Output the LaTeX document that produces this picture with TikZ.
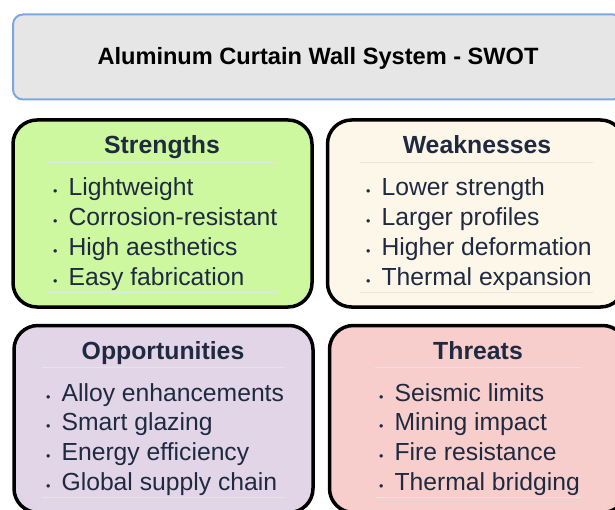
\documentclass[tikz,border=0pt]{standalone}
\usepackage{fontspec}
\setmainfont{Liberation Sans}
\usepackage{tikz}
\usetikzlibrary{shapes,arrows.meta}

\definecolor{titlefill}{HTML}{E6E6E6}
\definecolor{titleedge}{HTML}{7EA6E0}
\definecolor{strfill}{HTML}{CDF8A0}
\definecolor{weakfill}{HTML}{FDF7EA}
\definecolor{oppfill}{HTML}{E1D5E7}
\definecolor{thrfill}{HTML}{F8CECC}
\definecolor{ink}{HTML}{1F2A40}

\newcommand{\bul}{{\fontsize{12.5}{12.5}\selectfont •}\hspace{11pt}}

\begin{document}
\begin{tikzpicture}[x=1pt,y=-1pt]
	\tikzstyle{every node}=[inner sep=0pt, text=ink]
	\tikzstyle{card}=[draw=black, line width=3.5pt, rounded corners=24pt, minimum height=187pt]
	\tikzstyle{head}=[anchor=base, font=\fontsize{24.8}{24.8}\selectfont\bfseries]
	\tikzstyle{entry}=[anchor=base west, font=\fontsize{24.7}{24.7}\selectfont]
	\tikzstyle{sepline}=[line width=0.8pt, black!10]

	%%page frame
	\useasboundingbox (0.0000,0.0000) rectangle (615.0000,510.0000);

	%%title
	\node [draw=titleedge, fill=titlefill, line width=2pt, rounded corners=10pt, minimum width=610pt, minimum height=85pt] (title) at (318.0000,57.0000) {};
	\node [anchor=base, font=\fontsize{23.6}{23.6}\selectfont\bfseries, text=black] (titletext) at (318.0000,65.0000) {Aluminum Curtain Wall System - SWOT};

	%%strengths
	\node [card, fill=strfill, minimum width=299pt] (str) at (162.5000,213.5000) {};
	\node [head] (strhead) at (162.0000,154.0000) {Strengths};
	\draw [sepline] (47.0000,162.0000) -- (277.0000,162.0000);
	\node [entry] (str1) at (53.0000,195.5000) {\bul Lightweight};
	\node [entry] (str2) at (53.0000,225.5000) {\bul Corrosion-resistant};
	\node [entry] (str3) at (53.0000,255.5000) {\bul High aesthetics};
	\node [entry] (str4) at (53.0000,285.5000) {\bul Easy fabrication};
	\draw [sepline] (47.0000,292.0000) -- (277.0000,292.0000);

	%%weaknesses
	\node [card, fill=weakfill, minimum width=297pt] (weak) at (476.0000,213.5000) {};
	\node [head] (weakhead) at (477.0000,154.0000) {Weaknesses};
	\draw [sepline] (360.0000,162.0000) -- (593.0000,162.0000);
	\node [entry] (weak1) at (366.0000,195.5000) {\bul Lower strength};
	\node [entry] (weak2) at (366.0000,225.5000) {\bul Larger profiles};
	\node [entry] (weak3) at (366.0000,255.5000) {\bul Higher deformation};
	\node [entry] (weak4) at (366.0000,285.5000) {\bul Thermal expansion};
	\draw [sepline] (360.0000,292.0000) -- (593.0000,292.0000);

	%%opportunities
	\node [card, fill=oppfill, minimum width=299pt] (opp) at (163.5000,419.0000) {};
	\node [head] (opphead) at (163.0000,359.0000) {Opportunities};
	\draw [sepline] (42.0000,367.0000) -- (285.0000,367.0000);
	\node [entry] (opp1) at (46.0000,401.5000) {\bul Alloy enhancements};
	\node [entry] (opp2) at (46.0000,430.5000) {\bul Smart glazing};
	\node [entry] (opp3) at (46.0000,460.5000) {\bul Energy efficiency};
	\node [entry] (opp4) at (46.0000,490.5000) {\bul Global supply chain};
	\draw [sepline] (42.0000,497.0000) -- (285.0000,497.0000);

	%%threats
	\node [card, fill=thrfill, minimum width=297pt] (thr) at (478.0000,419.0000) {};
	\node [head] (thrhead) at (478.0000,359.0000) {Threats};
	\draw [sepline] (375.0000,367.0000) -- (581.0000,367.0000);
	\node [entry] (thr1) at (379.0000,401.5000) {\bul Seismic limits};
	\node [entry] (thr2) at (379.0000,430.5000) {\bul Mining impact};
	\node [entry] (thr3) at (379.0000,460.5000) {\bul Fire resistance};
	\node [entry] (thr4) at (379.0000,490.5000) {\bul Thermal bridging};
	\draw [sepline] (375.0000,497.0000) -- (581.0000,497.0000);

\end{tikzpicture}
\end{document}
